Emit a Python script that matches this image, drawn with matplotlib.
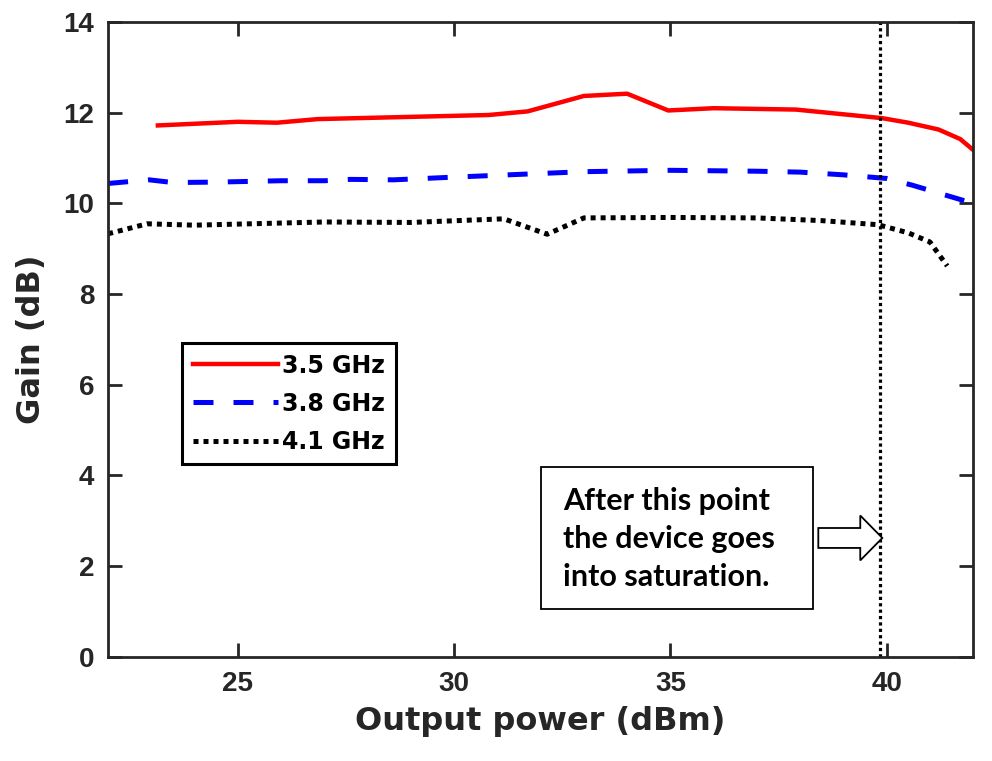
import matplotlib
matplotlib.use("Agg")
import matplotlib.pyplot as plt
import matplotlib.patches as mpatches

# gain vs output power
pout_35 = [23.15, 25.0, 25.9, 26.85, 30.8, 31.7, 33.0, 34.0, 34.95, 36.0, 37.9, 39.9, 40.5, 41.2, 41.7, 42.0]
gain_35 = [11.72, 11.8, 11.78, 11.86, 11.95, 12.03, 12.37, 12.42, 12.05, 12.1, 12.07, 11.88, 11.78, 11.63, 11.42, 11.18]

pout_38 = [22.0, 22.95, 23.5, 24.5, 26.0, 27.0, 27.6, 28.6, 30.0, 31.5, 33.0, 35.0, 37.0, 38.0, 39.0, 40.0, 40.6, 41.3, 41.9]
gain_38 = [10.44, 10.52, 10.46, 10.47, 10.5, 10.5, 10.53, 10.52, 10.58, 10.64, 10.7, 10.73, 10.71, 10.69, 10.63, 10.55, 10.4, 10.2, 10.03]

pout_41 = [22.0, 22.9, 24.0, 27.0, 29.0, 31.15, 32.15, 33.0, 35.0, 37.0, 38.5, 39.8, 40.5, 41.0, 41.4]
gain_41 = [9.33, 9.55, 9.52, 9.59, 9.58, 9.66, 9.32, 9.68, 9.69, 9.68, 9.62, 9.53, 9.35, 9.15, 8.62]

labels = ["3.5 GHz", "3.8 GHz", "4.1 GHz"]
sat_point = 39.85
x_ticks = [25, 30, 35, 40]
y_ticks = [0, 2, 4, 6, 8, 10, 12, 14]

plt.rcParams["font.family"] = ["Liberation Sans", "DejaVu Sans"]
plt.rcParams["font.weight"] = "bold"

fig = plt.figure(figsize=(9.92, 7.61), dpi=100)
ax = fig.add_axes([0.109, 0.137, 0.872, 0.834])

ax.plot(pout_35, gain_35, color="red", lw=3.2, label=labels[0])
ax.plot(pout_38, gain_38, color="blue", lw=3.6, ls=(0, (4, 4)), dash_capstyle="butt", label=labels[1])
ax.plot(pout_41, gain_41, color="black", lw=3.6, ls=(0, (1, 1)), dash_capstyle="butt", label=labels[2])

ax.axvline(sat_point, color="black", lw=2.3, ls=(0, (1, 1)))

ax.set_xlim(22, 42)
ax.set_ylim(0, 14)
ax.set_xticks(x_ticks)
ax.set_yticks(y_ticks)
ax.tick_params(direction="in", length=10, width=2, top=True, right=True,
               labelsize=20, colors="#262626", pad=10)
for lab in ax.get_xticklabels() + ax.get_yticklabels():
    lab.set_fontweight("bold")
for sp in ax.spines.values():
    sp.set_linewidth(2)
    sp.set_color("#262626")

wide = ["DejaVu Sans"]
ax.set_xlabel("Output power (dBm)", family=wide, fontsize=23, fontweight="bold",
              color="#262626", labelpad=7)
ax.set_ylabel("Gain (dB)", family=wide, fontsize=23, fontweight="bold",
              color="#262626", labelpad=12)

leg = ax.legend(loc="upper left", bbox_to_anchor=(0.0855, 0.4945), borderaxespad=0,
                fancybox=False, edgecolor="black", framealpha=1,
                prop=dict(family=wide, size=17, weight="bold"),
                handlelength=3.6, handletextpad=0.2, labelspacing=0.6,
                borderpad=0.45)
leg.get_frame().set_linewidth(2.2)

# note box + hollow arrow pointing at the saturation line
ax.add_patch(mpatches.Rectangle((32.01, 1.06), 6.29, 3.13, fc="white", ec="black", lw=1.3, zorder=3))
ax.text(32.52, 2.6, "After this point\nthe device goes\ninto saturation.",
        family=["Lato", "DejaVu Sans"], fontsize=22, fontweight="bold",
        ha="left", va="center", linespacing=1.45, zorder=4)
ax.add_patch(mpatches.FancyArrow(38.42, 2.62, 1.48, 0, width=0.44, head_width=0.99,
                                 head_length=0.51, length_includes_head=True,
                                 fc="white", ec="black", lw=1.3, zorder=3))

fig.savefig("out.png", dpi=100)
